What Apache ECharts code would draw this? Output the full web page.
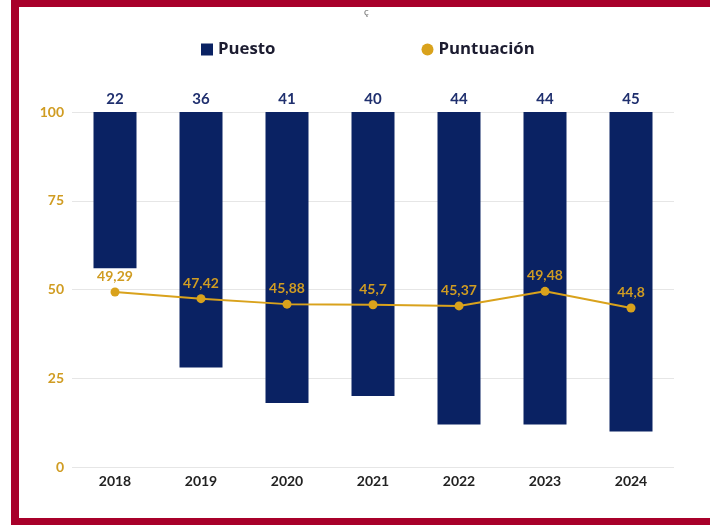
<!DOCTYPE html>
<html>
<head>
<meta charset="utf-8">
<script src="https://cdn.jsdelivr.net/npm/echarts@6/dist/echarts.min.js"></script>
<style>
html,body{margin:0;padding:0;background:#fff;}
#chart{width:710px;height:525px;}
</style>
</head>
<body>
<div id="chart"></div>
<script>
const categories = ['2018','2019','2020','2021','2022','2023','2024'];
const puesto = [22, 36, 41, 40, 44, 44, 45];
const puntuacion = [49.29, 47.42, 45.88, 45.7, 45.37, 49.48, 44.8];
const yTicks = [0, 25, 50, 75, 100];

const navy = '#0a2263';
const gold = '#d9a21c';
const goldText = '#d09c22';

const chart = echarts.init(document.getElementById('chart'));
chart.setOption({
  animation: false,
  backgroundColor: '#fff',
  textStyle: { fontFamily: 'Lato' },
  graphic: [
    { type: 'rect', shape: { x: 11, y: 0, width: 8, height: 525 }, style: { fill: '#a8002a' } },
    { type: 'rect', shape: { x: 11, y: 0, width: 699, height: 7 }, style: { fill: '#a8002a' } },
    { type: 'rect', shape: { x: 11, y: 518, width: 699, height: 7 }, style: { fill: '#a8002a' } },
    { type: 'text', left: 364, top: 7, style: { text: 'ç', fill: '#777', font: '10px Lato' } }
  ],
  legend: {
    top: 36,
    left: 196,
    itemGap: 146,
    itemWidth: 12,
    itemHeight: 12,
    textStyle: { fontFamily: 'Open Sans', fontWeight: 'bold', fontSize: 16.8, color: '#1c1c30' },
    data: [
      { name: 'Puesto', icon: 'rect' },
      { name: 'Puntuación', icon: 'circle' }
    ]
  },
  grid: { left: 72, right: 36, top: 112, bottom: 58 },
  xAxis: {
    type: 'category',
    data: categories,
    axisLine: { show: false },
    axisTick: { show: false },
    axisLabel: { fontFamily: 'Lato', fontWeight: 'bold', fontSize: 14, color: '#222', margin: 7 }
  },
  yAxis: [
    {
      type: 'value',
      min: 0, max: 100, interval: 25,
      axisLine: { show: false },
      axisTick: { show: false },
      splitLine: { lineStyle: { color: '#e6e6e6', width: 1 } },
      axisLabel: {
        fontFamily: 'Lato', fontWeight: 'bold', fontSize: 14, color: goldText, margin: 8,
        formatter: v => yTicks.includes(v) ? String(v) : ''
      }
    },
    {
      type: 'value',
      min: 0, max: 50,
      inverse: true,
      show: false
    }
  ],
  series: [
    {
      name: 'Puesto',
      type: 'bar',
      yAxisIndex: 1,
      data: puesto,
      barWidth: 43,
      itemStyle: { color: navy },
      label: {
        show: true, position: 'top', distance: 5,
        fontFamily: 'Lato', fontWeight: 'bold', fontSize: 15, color: '#1f2f6e'
      }
    },
    {
      name: 'Puntuación',
      type: 'line',
      yAxisIndex: 0,
      data: puntuacion,
      symbol: 'circle',
      symbolSize: 9,
      lineStyle: { color: gold, width: 2 },
      itemStyle: { color: gold },
      label: {
        show: true, position: 'top', distance: 4,
        fontFamily: 'Lato', fontWeight: 'bold', fontSize: 14, color: goldText,
        formatter: p => String(p.value).replace('.', ',')
      },
      z: 5
    }
  ]
});
</script>
</body>
</html>
